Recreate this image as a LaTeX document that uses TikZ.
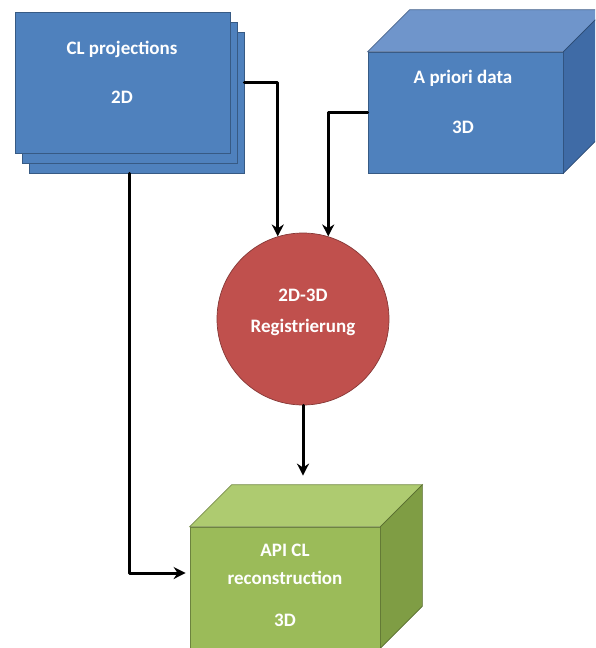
\documentclass[tikz,border=0pt]{standalone}
\usepackage{fontspec}
\setmainfont{Carlito}
\usetikzlibrary{arrows.meta,calc}
\definecolor{blau}{HTML}{4F81BD}
\definecolor{blauoben}{HTML}{6F95CB}
\definecolor{blauseite}{HTML}{3F6BA6}
\definecolor{rot}{HTML}{C0504D}
\definecolor{gruen}{HTML}{9BBB59}
\definecolor{gruenoben}{HTML}{AECB70}
\definecolor{gruenseite}{HTML}{7F9D44}
\tikzset{
  flaeche/.style={draw=#1!70!black, fill=#1, line width=.7pt},
  blatt/.style={flaeche=blau, minimum width=215pt, minimum height=141pt, inner sep=0pt},
  schrift/.style={text=white, font=\bfseries\fontsize{19}{22}\selectfont},
  pfeil/.style={->, line width=3pt, line cap=round, line join=round},
}
\begin{document}
\begin{tikzpicture}[x=1pt, y=-1pt, >={Stealth[length=12pt,width=12pt]}]
\useasboundingbox (0,0) rectangle (595,648);
\clip (0,0) rectangle (595,648);
\def\tief{42} % Tiefe der Quader
% Stapel der Projektionen
\node[blatt] (clback) at (136.5,102.5) {};
\node[blatt] (clmid) at (129.5,92.5) {};
\node[blatt] (cl) at (122.5,82.5) {};
% A-priori-Quader
\node[flaeche=blau, minimum width=195pt, minimum height=121pt, inner sep=0pt] (prior) at (465.5,112.5) {};
\draw[flaeche=blauoben] (prior.north west) -- ++(\tief,-\tief) -- ($(prior.north east)+(\tief,-\tief)$) -- (prior.north east) -- cycle;
\draw[flaeche=blauseite] (prior.north east) -- ++(\tief,-\tief) -- ($(prior.south east)+(\tief,-\tief)$) -- (prior.south east) -- cycle;
% Registrierung
\node[circle, flaeche=rot, minimum size=172pt, inner sep=0pt] (reg) at (303,319) {};
% Rekonstruktion
\node[flaeche=gruen, minimum width=190pt, minimum height=121pt, inner sep=0pt] (api) at (285,587.5) {};
\draw[flaeche=gruenoben] (api.north west) -- ++(\tief,-\tief) -- ($(api.north east)+(\tief,-\tief)$) -- (api.north east) -- cycle;
\draw[flaeche=gruenseite] (api.north east) -- ++(\tief,-\tief) -- ($(api.south east)+(\tief,-\tief)$) -- (api.south east) -- cycle;
\coordinate (apiback) at ($(api.north west)+(\tief,-\tief)$);
\coordinate (apiin) at ($(api.west)+(-4,-14.5)$);
\coordinate (apitop) at ($(reg.south |- apiback)+(0,-9)$);
\path[schrift]
(122,49) node (cltext) {CL projections}
(122,97) node (clnd) {2D}
(463,78) node (priortext) {A priori data}
(463,127) node (priornd) {3D}
(303,295) node (regtext) {2D-3D}
(303,327) node (regtextb) {Registrierung}
(285,550) node (apitext) {API CL}
(285,578) node (apitextb) {reconstruction}
(285,620) node (apind) {3D};
\draw[pfeil] (clback.east |- cl.east) -| (reg.107);
\draw[pfeil] (prior.west) -| (reg.73);
\draw[pfeil] (reg.south) -- (apitop);
\draw[pfeil] (clmid.south |- clback.south) |- (apiin);
\end{tikzpicture}
\end{document}
